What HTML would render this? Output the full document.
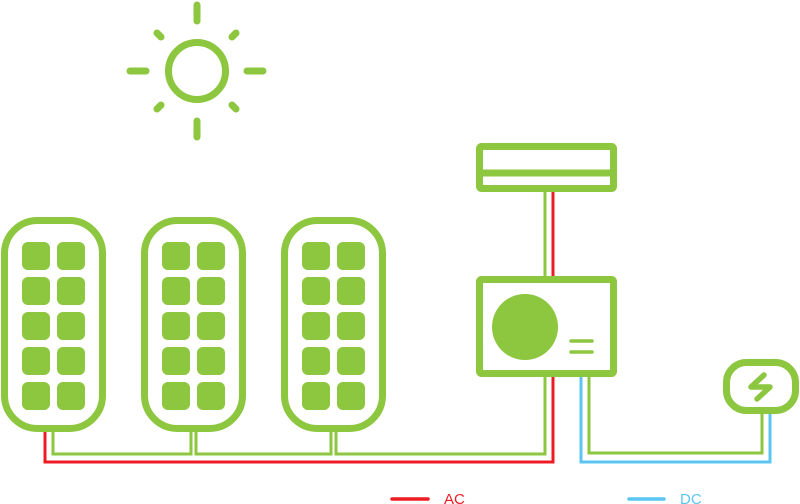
<!DOCTYPE html>
<html><head><meta charset="utf-8"><style>html,body{margin:0;padding:0;background:#fff;width:800px;height:504px;overflow:hidden}</style></head>
<body>
<svg width="800" height="504" viewBox="0 0 800 504" xmlns="http://www.w3.org/2000/svg">
<defs>
<g id="panel">
<rect x="4.5" y="220.5" width="98" height="208" rx="33" fill="none" stroke="#8dc63f" stroke-width="7"/>
<g fill="#8dc63f">
<rect x="22" y="242" width="28" height="28" rx="6"/><rect x="57" y="242" width="28" height="28" rx="6"/>
<rect x="22" y="277" width="28" height="28" rx="6"/><rect x="57" y="277" width="28" height="28" rx="6"/>
<rect x="22" y="312" width="28" height="28" rx="6"/><rect x="57" y="312" width="28" height="28" rx="6"/>
<rect x="22" y="347" width="28" height="28" rx="6"/><rect x="57" y="347" width="28" height="28" rx="6"/>
<rect x="22" y="382" width="28" height="28" rx="6"/><rect x="57" y="382" width="28" height="28" rx="6"/>
</g>
</g>
</defs>
<!-- sun -->
<g stroke="#8dc63f" stroke-width="7" stroke-linecap="round" fill="none">
<circle cx="197" cy="71" r="28.5"/>
<line x1="197" y1="5" x2="197" y2="21"/>
<line x1="197" y1="121" x2="197" y2="137"/>
<line x1="130" y1="71" x2="146" y2="71"/>
<line x1="247" y1="71" x2="263" y2="71"/>
<line x1="157" y1="33" x2="161" y2="37"/>
<line x1="236" y1="33" x2="232" y2="37"/>
<line x1="157" y1="109" x2="161" y2="105"/>
<line x1="236" y1="109" x2="232" y2="105"/>
</g>
<!-- wires -->
<g fill="none" stroke-width="3">
<polyline stroke="#ed1c24" points="45,432 45,462 553,462 553,377"/>
<polyline stroke="#8dc63f" points="53,432 53,454 191,454 191,432"/>
<polyline stroke="#8dc63f" points="196,432 196,454 331,454 331,432"/>
<polyline stroke="#8dc63f" points="336,432 336,454 545,454 545,377"/>
<line stroke="#8dc63f" x1="545" y1="192" x2="545" y2="276"/>
<line stroke="#ed1c24" x1="553" y1="192" x2="553" y2="276"/>
<polyline stroke="#5bc5f2" points="581,377 581,462 770,462 770,413"/>
<polyline stroke="#8dc63f" points="589,377 589,453 762,453 762,413"/>
</g>
<use href="#panel"/>
<use href="#panel" x="140"/>
<use href="#panel" x="280"/>
<!-- indoor unit -->
<g fill="none" stroke="#8dc63f" stroke-width="7" stroke-linejoin="round">
<rect x="479.5" y="146.5" width="134" height="42" rx="2"/>
<line x1="479" y1="173" x2="614" y2="173"/>
<rect x="479.5" y="279.5" width="134" height="94" rx="2"/>
<rect x="726.5" y="362.5" width="69" height="48" rx="20"/>
</g>
<circle cx="525" cy="327" r="33" fill="#8dc63f"/>
<g stroke="#8dc63f" stroke-width="3.5" stroke-linecap="round">
<line x1="571" y1="341" x2="592" y2="341"/>
<line x1="571" y1="352" x2="592" y2="352"/>
</g>
<polyline points="764,375 751,387 770,387 757,399" fill="none" stroke="#8dc63f" stroke-width="5.5" stroke-linecap="round" stroke-linejoin="round"/>
<!-- legend -->
<line x1="392" y1="499" x2="428" y2="499" stroke="#ed1c24" stroke-width="3.5" stroke-linecap="round"/>
<text x="444" y="504" font-family="Liberation Sans, sans-serif" font-size="15" fill="#ed1c24">AC</text>
<line x1="629" y1="499" x2="664" y2="499" stroke="#5bc5f2" stroke-width="3.5" stroke-linecap="round"/>
<text x="680" y="504" font-family="Liberation Sans, sans-serif" font-size="15" fill="#5bc5f2">DC</text>
</svg>
</body></html>
